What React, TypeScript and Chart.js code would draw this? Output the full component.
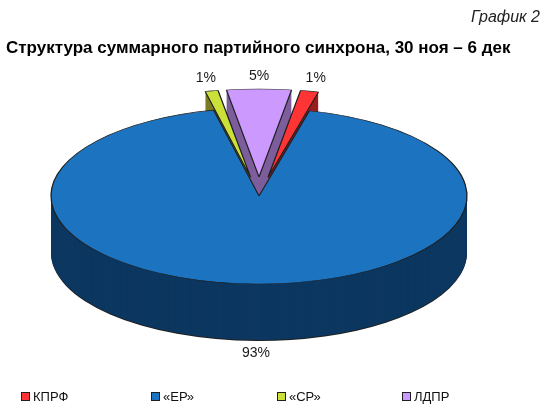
import React, { useEffect, useRef } from "react";
import { Chart, PieController, ArcElement } from "chart.js";

Chart.register(PieController, ArcElement);

// ---- data ----
const categories = ["КПРФ", "«ЕР»", "«СР»", "ЛДПР"];
const shares = [1.4, 92.6, 1.0, 5.0];
const chartTitle = "Структура суммарного партийного синхрона, 30 ноя – 6 дек";
const chartNumber = "График 2";

// ---- styles ----
const FONT = '"Liberation Sans", Arial, Helvetica, sans-serif';
const TOP_COLORS = ["#FF3434", "#1C73BF", "#CCE03A", "#CC99FF"];
const SIDE_COLORS = ["#9A1E1E", "#0C3760", "#7B7D24", "#7D5E9C"];
const OUTLINE = "#1f1f1f";
const TILT = 0.423; // vertical squash of the pie disc
const DEPTH = 56; // thickness of the disc in px
const EXPLODE = [45, 0, 45, 45];
const LABEL_PAD = 31;
const LEGEND_X = [21, 151, 277, 402];

const pie3d = {
  id: "pie3d",
  beforeDatasetsDraw(chart: any) {
    const meta = chart.getDatasetMeta(0);
    const arcs: any[] = meta.data;
    const ctx: CanvasRenderingContext2D = chart.ctx;

    const paint = (arc: any, i: number, dy: number, fill: string, border: string, bw: number) => {
      const mid = (arc.startAngle + arc.endAngle) / 2;
      ctx.save();
      ctx.translate(0, dy);
      ctx.translate(arc.x, arc.y);
      ctx.scale(1, TILT);
      ctx.translate(-arc.x, -arc.y);
      ctx.translate(Math.cos(mid) * EXPLODE[i], Math.sin(mid) * EXPLODE[i]);
      const saved = arc.options;
      arc.options = { ...saved, backgroundColor: fill, borderColor: border, borderWidth: bw, offset: 0, spacing: 0 };
      arc.draw(ctx);
      arc.options = saved;
      ctx.restore();
    };

    // side walls, from the bottom up
    for (let d = DEPTH + 1; d >= 1; d--) {
      arcs.forEach((arc, i) => {
        paint(arc, i, d, d === DEPTH + 1 ? OUTLINE : SIDE_COLORS[i], "rgba(0,0,0,0)", 0);
      });
    }
    // top faces
    arcs.forEach((arc, i) => paint(arc, i, 0, TOP_COLORS[i], OUTLINE, 1.3));

    // percentage labels
    ctx.save();
    ctx.font = `14px ${FONT}`;
    ctx.fillStyle = "#1a1a1a";
    ctx.textAlign = "center";
    ctx.textBaseline = "middle";
    arcs.forEach((arc, i) => {
      const mid = (arc.startAngle + arc.endAngle) / 2;
      const R = arc.outerRadius + EXPLODE[i] + LABEL_PAD;
      const s = Math.sin(mid);
      const x = arc.x + R * Math.cos(mid);
      const y = arc.y + TILT * R * s + (s > 0 ? DEPTH * s : 0);
      ctx.fillText(Math.round(shares[i]) + "%", x, y);
    });
    ctx.restore();
    return false;
  },
};

export default function App() {
  const ref = useRef<HTMLCanvasElement>(null);

  useEffect(() => {
    if (!ref.current) return;
    const chart = new Chart(ref.current, {
      type: "pie",
      data: {
        labels: categories,
        datasets: [
          {
            data: shares,
            backgroundColor: TOP_COLORS,
            borderColor: OUTLINE,
            borderWidth: 1,
          },
        ],
      },
      options: {
        animation: false,
        responsive: false,
        maintainAspectRatio: false,
        events: [],
        rotation: 9,
        radius: 208,
        layout: { padding: { left: 0, right: 32, top: 0, bottom: 23 } },
      } as any,
      plugins: [pie3d],
    });
    return () => chart.destroy();
  }, []);

  return (
    <div
      style={{
        position: "absolute",
        left: 0,
        top: 0,
        width: 550,
        height: 415,
        background: "#ffffff",
        fontFamily: FONT,
        overflow: "hidden",
      }}
    >
      <canvas ref={ref} width={550} height={415} style={{ position: "absolute", left: 0, top: 0 }} />
      <div
        style={{
          position: "absolute",
          right: 10,
          top: 9,
          fontSize: 16,
          lineHeight: "16px",
          fontStyle: "italic",
          color: "#222",
          whiteSpace: "nowrap",
        }}
      >
        {chartNumber}
      </div>
      <div
        style={{
          position: "absolute",
          left: 6,
          top: 38.5,
          fontSize: 17,
          lineHeight: "17px",
          fontWeight: "bold",
          color: "#000",
          whiteSpace: "nowrap",
        }}
      >
        {chartTitle}
      </div>
      {categories.map((c, i) => (
        <div key={c} style={{ position: "absolute", left: LEGEND_X[i], top: 390, height: 14, whiteSpace: "nowrap" }}>
          <span
            style={{
              position: "absolute",
              left: 0,
              top: 2,
              width: 7,
              height: 7,
              background: TOP_COLORS[i],
              border: `1px solid ${OUTLINE}`,
            }}
          />
          <span style={{ position: "absolute", left: 12, top: 0, fontSize: 13, lineHeight: "13px", color: "#111" }}>
            {c}
          </span>
        </div>
      ))}
    </div>
  );
}
